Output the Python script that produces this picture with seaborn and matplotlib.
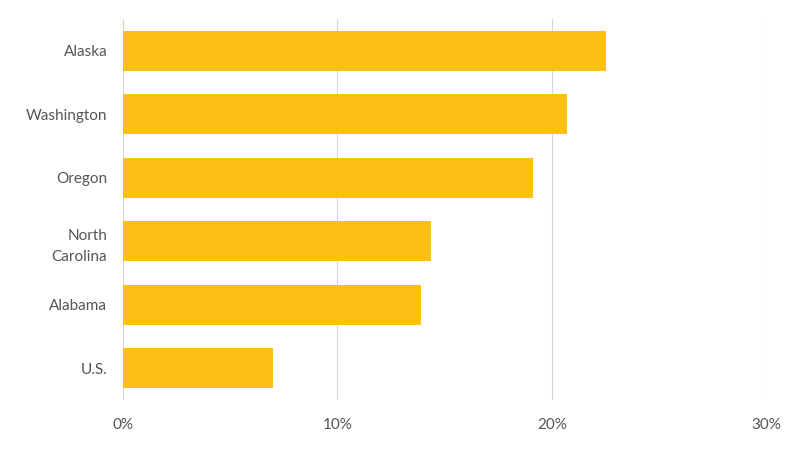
import pandas as pd
import matplotlib.pyplot as plt
import seaborn as sns
from matplotlib.ticker import FuncFormatter

states = ["Alaska", "Washington", "Oregon", "North\nCarolina", "Alabama", "U.S."]
pct = [22.5, 20.7, 19.1, 14.35, 13.9, 7.0]

df = pd.DataFrame({"state": states, "pct": pct})

sns.set_style("white")
plt.rcParams["font.family"] = ["Lato", "DejaVu Sans"]

fig = plt.figure(figsize=(8, 4.5), dpi=100)
ax = fig.add_axes([122.5 / 800, 1 - 400 / 450, (766.7 - 122.5) / 800, (400 - 19) / 450])

sns.barplot(data=df, x="pct", y="state", orient="h", color="#FBBF15",
            saturation=1, width=0.625, linewidth=0, ax=ax, zorder=2)

ax.set_xlim(0, 30)
ax.set_ylim(5.5, -0.5)
ax.set_xticks([0, 10, 20, 30])
ax.xaxis.set_major_formatter(FuncFormatter(lambda v, p: f"{v:.0f}%"))
ax.grid(axis="x", color="#d6d6d6", linewidth=0.8, zorder=0)
ax.grid(axis="y", visible=False)
for s in ax.spines.values():
    s.set_visible(False)
ax.tick_params(axis="both", length=0, labelsize=11, colors="#555555")
ax.tick_params(axis="x", pad=13)
ax.tick_params(axis="y", pad=11)
for lbl in ax.get_yticklabels():
    lbl.set_horizontalalignment("right")
    lbl.set_multialignment("right")
    lbl.set_linespacing(1.65)
ax.set_xlabel("")
ax.set_ylabel("")

fig.savefig("out.png", dpi=100)
